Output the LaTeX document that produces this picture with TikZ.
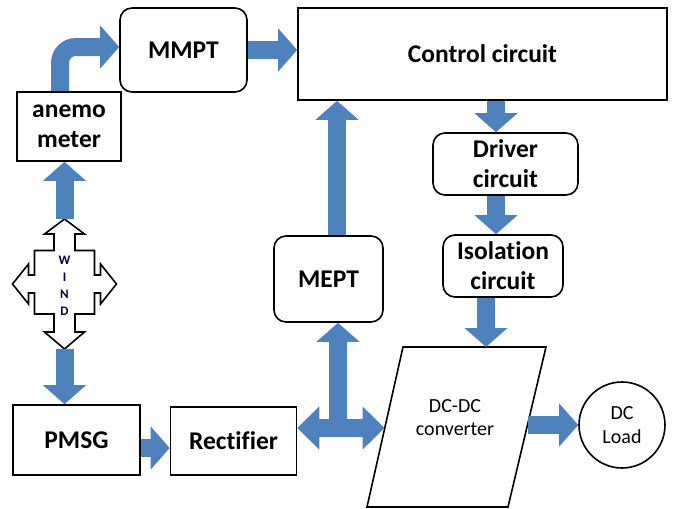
\documentclass[tikz,border=0pt]{standalone}
\usepackage{fontspec}
\setmainfont{Carlito}[Ligatures=NoCommon]
\usetikzlibrary{arrows.meta,calc}
\definecolor{bb}{HTML}{4F81BD}
\begin{document}
\begin{tikzpicture}[x=1pt,y=-1pt,
 box/.style={draw,line width=1.6pt,align=center,font=\bfseries\fontsize{25.5}{30}\selectfont,inner sep=0pt},
 rbox/.style={box,rounded corners=12pt},
 fat/.style={line width=18pt,bb,-{Triangle[width=42pt,length=19pt]}},
 fattwo/.style={line width=18pt,bb,{Triangle[width=42pt,length=22pt]}-{Triangle[width=42pt,length=22pt]}}]
\useasboundingbox (0,0) rectangle (678,509);
% boxes
\node[rbox,minimum width=127pt,minimum height=84pt] (mmpt) at (183.5,50) {MMPT};
\node[box,minimum width=369pt,minimum height=92pt] (ctrl) at (482.5,54) {Control circuit};
\node[box,minimum width=104pt,minimum height=69pt] (anem) at (69,126.5) {anemo\\meter};
\node[rbox,minimum width=145pt,minimum height=62pt] (drv) at (505.5,164) {Driver\\circuit};
\node[rbox,minimum width=120pt,minimum height=62pt] (iso) at (503,266) {Isolation\\circuit};
\node[rbox,minimum width=109pt,minimum height=86pt] (mept) at (328.5,279) {MEPT};
\node[box,minimum width=127pt,minimum height=70pt] (pmsg) at (76.5,440) {PMSG};
\node[box,minimum width=126pt,minimum height=68pt] (rect) at (233.5,441) {Rectifier};
\node[circle,draw,line width=1.6pt,minimum size=86pt,inner sep=0pt,align=center,font=\fontsize{20}{24}\selectfont] (load) at (622,425) {DC\\Load};
% DC-DC converter parallelogram
\coordinate (p1) at (403,347);
\coordinate (p2) at (546,347);
\coordinate (p3) at (508,507);
\coordinate (p4) at (367,507);
\draw[line width=1.6pt] (p1) -- (p2) -- (p3) -- (p4) -- cycle;
\node[align=center,font=\fontsize{20}{23}\selectfont] (dcdc) at (455,418) {DC-DC\\converter};
% WIND quad arrow
\begin{scope}[shift={(64.5,284)}]
\draw[line width=1.6pt,fill=white] (0,-65) -- (20,-50) -- (10.5,-50) -- (10.5,-33.5) -- (30,-33.5) -- (30,-9) -- (36,-9) -- (36,-20) -- (52,0) -- (36,20) -- (36,9) -- (30,9) -- (30,30) -- (10.5,30) -- (10.5,48) -- (20,48) -- (0,65) -- (-20,48) -- (-10.5,48) -- (-10.5,30) -- (-30,30) -- (-30,9) -- (-36,9) -- (-36,20) -- (-52,0) -- (-36,-20) -- (-36,-9) -- (-30,-9) -- (-30,-33.5) -- (-10.5,-33.5) -- (-10.5,-50) -- (-20,-50) -- cycle;
\end{scope}
\node[align=center,font=\bfseries\fontsize{13}{17}\selectfont,text=black!75!blue] (windtxt) at (64.5,286) {W\\I\\N\\D};
\coordinate (wtop) at (64.5,219);
\coordinate (wbot) at (64.5,349);
% arrows
\draw[fat] (wtop) -- (wtop |- anem.south);
\draw[fat] (wbot) -- (wbot |- pmsg.north);
\draw[fat,rounded corners=16pt] ([xshift=-9pt]anem.north) |- ([yshift=3pt]mmpt.west);
\draw[fat] (mmpt.east) -- (ctrl.west |- mmpt.east);
\coordinate (pe) at ([yshift=-8pt]pmsg.east);
\draw[fat] (pe) -- (pe -| rect.west);
\coordinate (re) at ([yshift=13pt]rect.east);
\coordinate (dcl) at (384.5,428);
\draw[fattwo] (re) -- (dcl);
\coordinate (tj) at (338,428);
\draw[fat] (tj) -- (tj |- mept.south);
\coordinate (mn) at ([xshift=8.5pt]mept.north);
\draw[fat] (mn) -- (mn |- ctrl.south);
\coordinate (d1) at ([xshift=-9.5pt]drv.north);
\draw[fat] (d1 |- ctrl.south) -- (d1);
\coordinate (d2) at ([xshift=-9.5pt]drv.south);
\draw[fat] (d2) -- (d2 |- iso.north);
\coordinate (i1) at ([xshift=-17pt]iso.south);
\coordinate (dct) at (486,347);
\draw[fat] (i1) -- (dct);
\coordinate (dcr) at (527.5,425);
\draw[fat] (dcr) -- (load.west);
\end{tikzpicture}
\end{document}
